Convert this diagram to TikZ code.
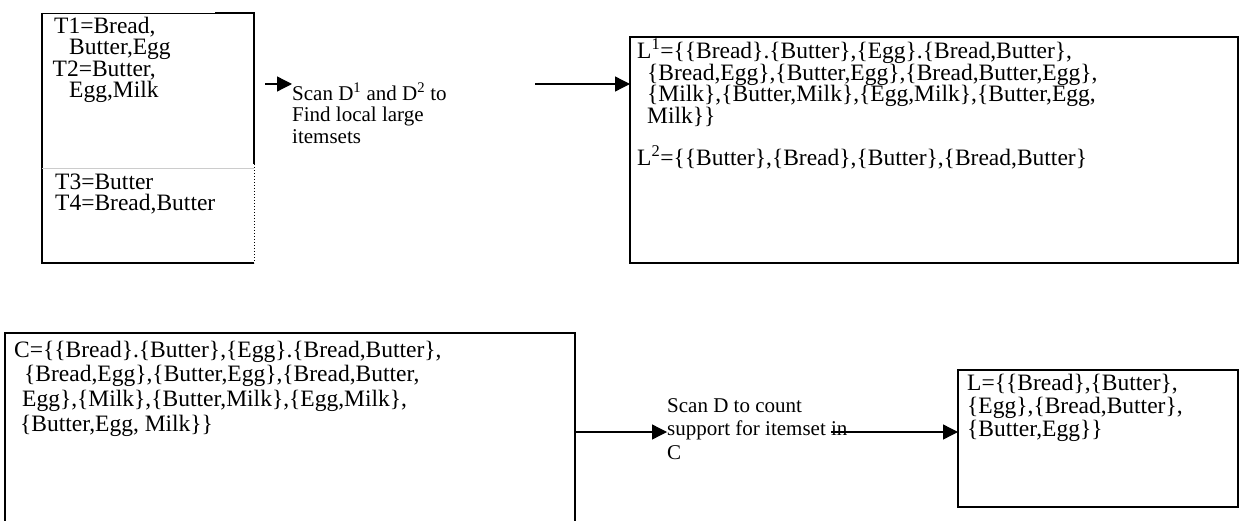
\documentclass[tikz,border=0pt]{standalone}
\usepackage{fontspec}
\setmainfont{Liberation Serif}
\usetikzlibrary{arrows.meta}
\tikzset{
  frame/.style={line width=1.6pt},
  holder/.style={anchor=north west, inner sep=0pt, outer sep=0pt},
  txt/.style={anchor=north west, inner sep=0pt, align=left,
              font=\fontsize{23.5}{21.5}\selectfont},
  txtc/.style={txt, font=\fontsize{23.5}{24.7}\selectfont},
  txtl/.style={txt, font=\fontsize{23.5}{23}\selectfont},
  note/.style={txt, font=\fontsize{21}{21.5}\selectfont},
  noteb/.style={txt, font=\fontsize{21}{23.5}\selectfont},
  arr/.style={line width=1.3pt, -{Triangle[length=15pt,width=15pt]}}
}
\begin{document}
\begin{tikzpicture}[x=1pt,y=-1pt]
\useasboundingbox (0,0) rectangle (1241,521);

% transaction database, split into two partitions
\node[holder, minimum width=212pt, minimum height=250pt] (db) at (42,13) {};
\draw[line width=0.8pt] (db.north west) -- ++(173,0);
\draw[frame] (db.north west) ++(173,0) -- (db.north east) -- ++(0,151);
\draw[frame] (db.north west) -- (db.south west) -- (db.south east);
\draw[line width=1pt, dotted] (db.north east) ++(0,151) -- (db.south east);
\draw[gray!40, line width=0.8pt] (db.west |- 0,168) -- (db.east |- 0,168);
\node[txt] (p1) at (54,16.5) {T1=Bread,\\\hspace*{15pt}Butter,Egg\\\hspace*{-1.5pt}T2=Butter,\\\hspace*{15pt}Egg,Milk};
\node[txt] (p2) at (55,173.5) {T3=Butter\\T4=Bread,Butter};

% first scan
\coordinate (a1) at (265,84);
\node[note] (scan1) at (292,83) {Scan D\textsuperscript{1} and D\textsuperscript{2} to\\Find local large\\itemsets};
\draw[arr] (a1) -- (scan1.north west |- a1);

% local large itemsets
\node[holder, draw, frame, minimum width=608pt, minimum height=226pt] (loc) at (630,37) {};
\coordinate (a2) at (535,84);
\draw[arr] (a2) -- (loc.west |- a2);
\node[txt] (l1) at (637,38.5) {L\textsuperscript{1}=\{\{Bread\}.\{Butter\},\{Egg\}.\{Bread,Butter\},\\
\hspace*{10pt}\{Bread,Egg\},\{Butter,Egg\},\{Bread,Butter,Egg\},\\
\hspace*{10pt}\{Milk\},\{Butter,Milk\},\{Egg,Milk\},\{Butter,Egg,\\
\hspace*{10pt}Milk\}\}};
\node[txt] (l2) at (637,145.5) {L\textsuperscript{2}=\{\{Butter\},\{Bread\},\{Butter\},\{Bread,Butter\}};

% candidate set
\node[holder, minimum width=570pt, minimum height=188pt] (cand) at (5,333) {};
\draw[frame] (cand.south west) -- (cand.north west) -- (cand.north east) -- (cand.south east);
\node[txtc] (c) at (14,340.5) {C=\{\{Bread\}.\{Butter\},\{Egg\}.\{Bread,Butter\},\\
\hspace*{10pt}\{Bread,Egg\},\{Butter,Egg\},\{Bread,Butter,\\
\hspace*{8pt}Egg\},\{Milk\},\{Butter,Milk\},\{Egg,Milk\},\\
\hspace*{6pt}\{Butter,Egg, Milk\}\}};

% second scan
\node[noteb] (scan2) at (667,398) {Scan D to count\\support for itemset in\\C};
\draw[arr] (cand.east |- 0,432) -- (scan2.west |- 0,432);

% global large itemsets
\node[holder, draw, frame, minimum width=280pt, minimum height=137pt] (glob) at (958,370) {};
\node[txtl] (g) at (967,373.5) {L=\{\{Bread\},\{Butter\},\\\{Egg\},\{Bread,Butter\},\\\{Butter,Egg\}\}};
\coordinate (a4) at (831,432);
\draw[arr] (a4) -- (glob.west |- a4);
\end{tikzpicture}
\end{document}
